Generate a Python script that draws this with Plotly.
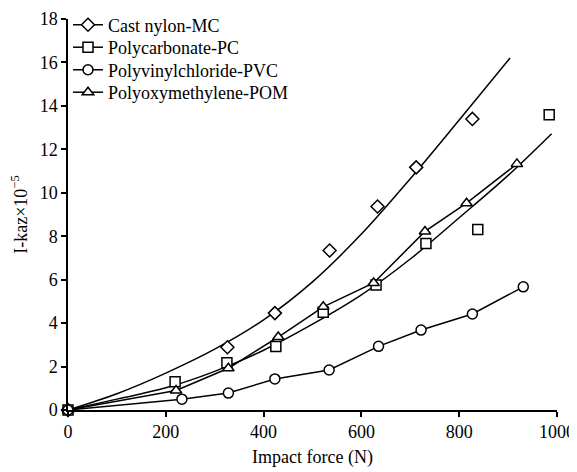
import plotly.graph_objects as go

# ---- data ----
series_names = ["Cast nylon-MC", "Polycarbonate-PC", "Polyvinylchloride-PVC", "Polyoxymethylene-POM"]

mc_x = [0, 326, 423, 535, 633, 712, 827]
mc_y = [0, 2.89, 4.46, 7.34, 9.37, 11.17, 13.4]

pc_x = [0, 219, 325, 425, 522, 630, 732, 838, 984]
pc_y = [0, 1.30, 2.17, 2.92, 4.5, 5.76, 7.66, 8.31, 13.59]

pvc_x = [0, 233, 328, 423, 534, 635, 722, 827, 931]
pvc_y = [0, 0.5, 0.78, 1.43, 1.84, 2.93, 3.68, 4.42, 5.67]

pom_x = [0, 221, 328, 430, 522, 625, 730, 815, 918]
pom_y = [0, 0.9, 1.92, 3.36, 4.75, 5.85, 8.22, 9.52, 11.33]

# fitted trend curves
mc_fit_x = [0, 100, 200, 300, 400, 500, 600, 700, 800, 904]
mc_fit_y = [0, 0.75, 1.7, 2.8, 4.15, 5.9, 8.1, 10.65, 13.35, 16.2]

pc_fit_x = [0, 100, 200, 300, 400, 500, 600, 700, 800, 900, 989]
pc_fit_y = [0, 0.5, 1.02, 1.78, 2.75, 3.95, 5.3, 6.95, 8.85, 10.8, 12.72]

x_ticks = [0, 200, 400, 600, 800, 1000]
y_ticks = [0, 2, 4, 6, 8, 10, 12, 14, 16, 18]

FONT = "Liberation Serif"
FS = 18
LW = 1.5
# the page body has an 8px margin, so the figure is drawn 8px smaller and sits at (8, 8)
W, H = 569, 464

fig = go.Figure()

# lines
fig.add_trace(go.Scatter(x=mc_fit_x, y=mc_fit_y, mode="lines", line=dict(color="black", width=LW, shape="spline"),
                         showlegend=False, hoverinfo="skip"))
fig.add_trace(go.Scatter(x=pc_fit_x, y=pc_fit_y, mode="lines", line=dict(color="black", width=LW, shape="spline"),
                         showlegend=False, hoverinfo="skip"))
fig.add_trace(go.Scatter(x=pom_x, y=pom_y, mode="lines", line=dict(color="black", width=LW),
                         showlegend=False, hoverinfo="skip"))
fig.add_trace(go.Scatter(x=pvc_x, y=pvc_y, mode="lines", line=dict(color="black", width=LW),
                         showlegend=False, hoverinfo="skip"))

marker_sets = [
    (mc_x, mc_y, "diamond"),
    (pc_x, pc_y, "square"),
    (pom_x, pom_y, "triangle-up"),
    (pvc_x, pvc_y, "circle"),
]
for xs, ys, sym in marker_sets:
    fig.add_trace(go.Scatter(x=xs, y=ys, mode="markers", cliponaxis=False,
                             marker=dict(symbol=sym, size=10, color="white", line=dict(color="black", width=1.5)),
                             showlegend=False))

# legend entries: one small legend per row, so rows sit tightly like the reference
legend_syms = ["diamond", "square", "circle", "triangle-up"]
legend_ids = ["legend", "legend2", "legend3", "legend4"]
row_centers_px = [17, 39.5, 62, 84.5]
legend_layouts = {}
for i, name in enumerate(series_names):
    fig.add_trace(go.Scatter(x=[None], y=[None], mode="lines+markers", name=name, legend=legend_ids[i],
                             line=dict(color="black", width=LW),
                             marker=dict(symbol=legend_syms[i], size=10, color="white",
                                         line=dict(color="black", width=1.5))))
    legend_layouts[legend_ids[i]] = dict(
        x=0.0, xref="paper", xanchor="left",
        y=1 - row_centers_px[i] / H, yref="container", yanchor="middle",
        bgcolor="rgba(0,0,0,0)", font=dict(family=FONT, size=FS, color="black"),
        itemwidth=30, tracegroupgap=0)

axis_common = dict(showline=True, linecolor="black", linewidth=1.5, ticks="outside", ticklen=5,
                   tickwidth=1.5, tickcolor="black", showgrid=False, zeroline=False, automargin=False,
                   tickfont=dict(family=FONT, size=FS, color="black"))

fig.update_layout(
    width=W, height=H,
    margin=dict(l=60, r=20, t=11, b=62, autoexpand=False),
    paper_bgcolor="white", plot_bgcolor="white",
    font=dict(family=FONT, color="black", size=FS),
    xaxis=dict(range=[0, 1000], tickvals=x_ticks, **axis_common,
               title=dict(text="Impact force (N)", font=dict(family=FONT, size=FS), standoff=9)),
    yaxis=dict(range=[0, 18], tickvals=y_ticks, **axis_common,
               title=dict(text="I-kaz×10<sup>−5</sup>", font=dict(family=FONT, size=FS), standoff=8)),
    showlegend=True,
    **legend_layouts,
)

fig.write_html("out.html")
